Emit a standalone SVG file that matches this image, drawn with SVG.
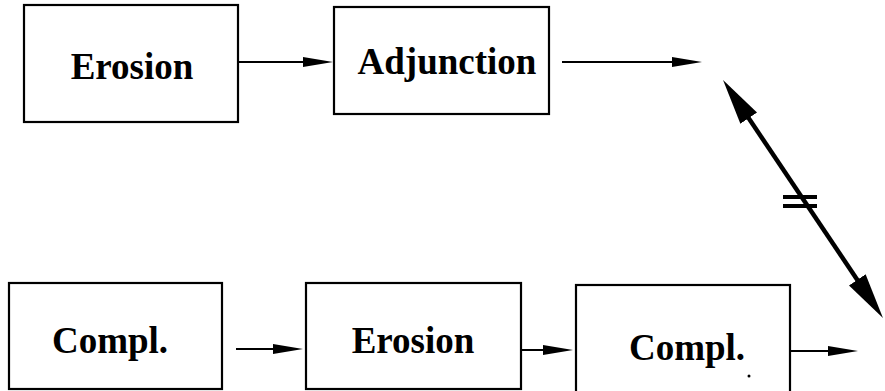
<svg xmlns="http://www.w3.org/2000/svg" width="885" height="391" viewBox="0 0 885 391">
  <style>
    .box { fill: #fff; stroke: #000; stroke-width: 2.2; }
    .lbl { font-family: "Liberation Serif", "Times New Roman", serif; font-weight: bold; font-size: 37px; fill: #000; text-anchor: middle; }
    .wire { stroke: #000; stroke-width: 2; fill: none; }
    .thick { stroke: #000; stroke-width: 4.5; fill: none; }
  </style>
  <defs>
    <!-- small arrowhead: tip sits 10px past the line end -->
    <marker id="head" markerUnits="userSpaceOnUse" markerWidth="30" markerHeight="12" viewBox="0 0 30 12" refX="20" refY="6" orient="auto">
      <path d="M0,1 L30,6 L0,11 z" fill="#000"/>
    </marker>
    <!-- large arrowhead for the double-headed connector -->
    <marker id="bighead" markerUnits="userSpaceOnUse" markerWidth="46" markerHeight="22" viewBox="0 0 46 22" refX="26" refY="11" orient="auto-start-reverse">
      <path d="M0,1 L46,11 L0,21 z" fill="#000"/>
    </marker>
  </defs>

  <rect width="885" height="391" fill="#fff"/>

  <g id="erosion-top">
    <rect class="box" x="24" y="5" width="214" height="117"/>
    <text class="lbl" x="132" y="79">Erosion</text>
  </g>
  <g id="adjunction">
    <rect class="box" x="334" y="7" width="215" height="107"/>
    <text class="lbl" x="447" y="74">Adjunction</text>
  </g>
  <g id="compl-left">
    <rect class="box" x="9" y="283" width="213" height="106"/>
    <text class="lbl" x="110" y="353">Compl.</text>
  </g>
  <g id="erosion-bottom">
    <rect class="box" x="306" y="283" width="215" height="106"/>
    <text class="lbl" x="413" y="353">Erosion</text>
  </g>
  <g id="compl-right">
    <rect class="box" x="576" y="285" width="214" height="108"/>
    <text class="lbl" x="687" y="360">Compl.</text>
    <circle cx="749" cy="376" r="1.5" fill="#000"/>
  </g>

  <g id="connectors">
    <line class="wire" x1="239" y1="62" x2="323" y2="62" marker-end="url(#head)"/>
    <line class="wire" x1="562" y1="62" x2="692" y2="62" marker-end="url(#head)"/>
    <line class="wire" x1="236" y1="349" x2="293" y2="349" marker-end="url(#head)"/>
    <line class="wire" x1="520" y1="350" x2="563" y2="350" marker-end="url(#head)"/>
    <line class="wire" x1="791" y1="351" x2="848" y2="351" marker-end="url(#head)"/>
    <line class="thick" x1="734.2" y1="96.6" x2="871.8" y2="301.4" marker-start="url(#bighead)" marker-end="url(#bighead)"/>
    <!-- "not equal" bars across the double arrow -->
    <rect x="783" y="195" width="34" height="4" fill="#000"/>
    <rect x="783" y="204" width="34" height="4" fill="#000"/>
  </g>
</svg>
